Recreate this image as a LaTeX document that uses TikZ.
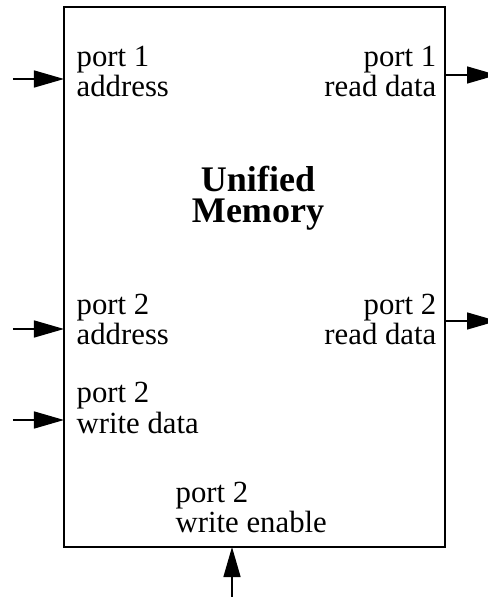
\documentclass[tikz,border=0pt]{standalone}
\usepackage{fontspec}
\setmainfont{Liberation Serif}
\usetikzlibrary{arrows.meta}
\begin{document}
\begin{tikzpicture}[font=\fontsize{17.5}{17.1}\selectfont, >={Triangle[length=0.6cm,width=0.34cm]},
          line width=0.8pt,
          mem/.style={draw, inner sep=0pt, outer sep=0pt, minimum width=7.62cm, minimum height=10.8cm},
          lft/.style={align=left, anchor=base west, inner sep=0pt},
          rgt/.style={align=right, anchor=base east, inner sep=0pt},
          title/.style={align=center, anchor=base, inner sep=0pt, font=\fontsize{20.5}{18}\selectfont\bfseries}]
        \useasboundingbox (0,0) rectangle (9.76,11.94);
        \node[mem] (mem) at (5.09,6.4) {};
        % base anchor sits on the last line
        \node[title] (name) at (5.16,7.48) {Unified\\Memory};
        \node[lft] (p1addr) at (1.52,10.0) {port 1\\address};
        \node[rgt] (p1rd) at (8.74,10.0) {port 1\\read data};
        \node[lft] (p2addr) at (1.52,5.04) {port 2\\address};
        \node[rgt] (p2rd) at (8.74,5.04) {port 2\\read data};
        \node[lft] (p2wd) at (1.52,3.28) {port 2\\write data};
        \node[lft] (p2we) at (3.5,1.28) {port 2\\write enable};
        \coordinate (in1) at (0.26,10.36);
        \coordinate (in2) at (0.26,5.36);
        \coordinate (in3) at (0.26,3.54);
        % the output tips run past the right edge
        \coordinate (out1) at (9.94,10.44);
        \coordinate (out2) at (9.94,5.52);
        \coordinate (in4) at (4.64,0);
        \draw[->] (in1) -- (in1 -| mem.west);
        \draw[->] (in2) -- (in2 -| mem.west);
        \draw[->] (in3) -- (in3 -| mem.west);
        \draw[->] (out1 -| mem.east) -- (out1);
        \draw[->] (out2 -| mem.east) -- (out2);
        \draw[->] (in4) -- (in4 |- mem.south);
      \end{tikzpicture}
\end{document}
